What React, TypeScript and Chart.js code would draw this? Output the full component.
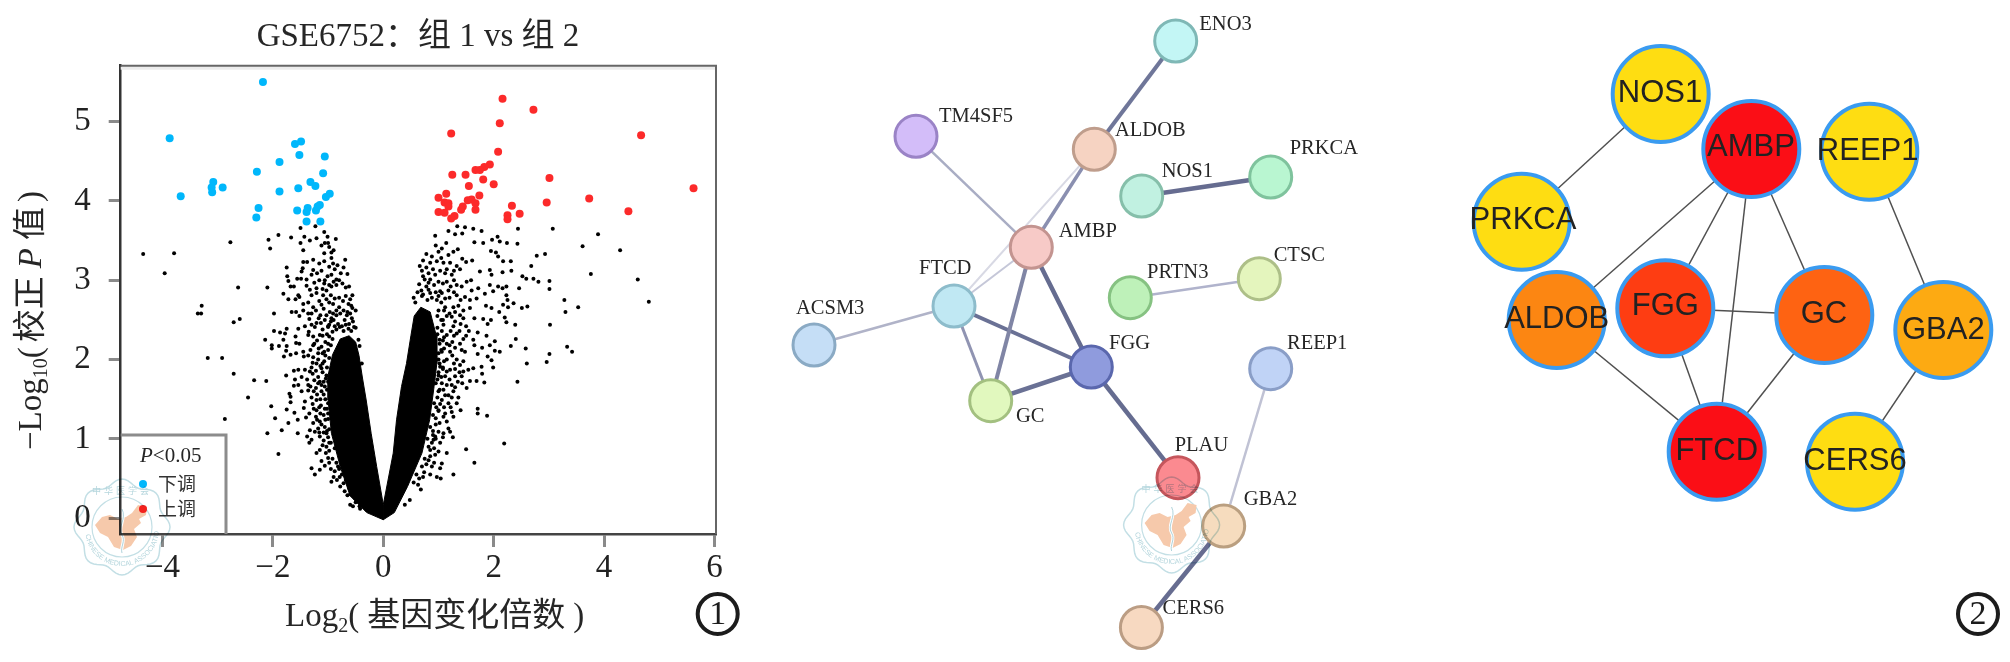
import React, { useEffect, useRef } from "react";
import { Chart, registerables } from "chart.js";

Chart.register(...registerables);

type P = number[];
const SERIF = '"Liberation Serif","Noto Sans CJK SC"';
const SANS = '"Liberation Sans",Arial';
const INK = "#222222";

/* ---------- Volcano plot values (log2 FC, -log10 adj. P) ---------- */
const volcanoTitle = "GSE6752：组 1 vs 组 2";
const xTickValues = [-4, -2, 0, 2, 4, 6];
const yTickValues = [0, 1, 2, 3, 4, 5];

const downRegulated: P[] = [
  [-2.18, 5.5], [-3.87, 4.79], [-3.67, 4.06], [-3.08, 4.24], [-3.11, 4.17], [-3.1, 4.11], [-2.91, 4.17], [-2.29, 4.37],
  [-1.88, 4.49], [-1.88, 4.12], [-2.26, 3.91], [-2.3, 3.79], [-1.6, 4.72], [-1.49, 4.75], [-1.52, 4.58], [-1.06, 4.56],
  [-1.09, 4.35], [-1.32, 4.24], [-1.23, 4.19], [-1.54, 4.16], [-0.97, 4.09], [-1.04, 4.05], [-1.15, 3.95], [-1.22, 3.88],
  [-1.37, 3.91], [-1.56, 3.88], [-1.39, 3.86], [-1.39, 3.74], [-1.14, 3.74], [-1.19, 3.93],
];

const upRegulated: P[] = [
  [2.16, 5.29], [2.72, 5.15], [2.11, 4.98], [1.23, 4.85], [4.67, 4.83], [2.08, 4.62], [1.93, 4.46], [1.83, 4.43],
  [1.75, 4.39], [1.67, 4.39], [1.49, 4.33], [1.25, 4.33], [1.81, 4.27], [3.01, 4.29], [1.55, 4.19], [2.0, 4.21],
  [5.62, 4.16], [3.73, 4.03], [1.0, 4.04], [1.14, 4.09], [1.74, 4.07], [1.53, 4.01], [1.6, 4.02], [1.67, 3.97],
  [2.96, 3.98], [1.11, 3.98], [1.18, 3.97], [1.18, 3.93], [1.44, 3.93], [1.41, 3.89], [1.67, 3.89], [2.33, 3.94],
  [4.44, 3.87], [2.47, 3.84], [1.0, 3.86], [1.11, 3.85], [2.25, 3.82], [2.25, 3.77], [1.29, 3.81], [1.23, 3.78],
];

const notSignificantLeft: P[] = [
  [-4.35, 3.33], [-3.79, 3.34], [-3.96, 3.09], [-2.77, 3.48], [-2.63, 2.91], [-2.1, 2.91], [-3.29, 2.68], [-3.36, 2.58], [-3.3, 2.58],
  [-2.71, 2.47], [-2.6, 2.51], [-1.98, 2.58], [-2.14, 2.25], [-3.18, 2.02], [-2.92, 2.02], [-2.71, 1.82], [-2.34, 1.74], [-2.12, 1.73],
  [-2.45, 1.52], [-2.03, 1.41], [-2.87, 1.25], [-1.96, 1.26], [-2.1, 1.07], [-1.84, 1.11], [-1.72, 1.2], [-1.9, 0.81], [-1.55, 1.07],
  [-1.76, 1.8], [-1.7, 1.57], [-1.75, 1.37], [-1.61, 1.33], [-1.55, 1.24],
  [-2.08, 3.51], [-2.05, 3.4], [-1.9, 3.57], [-1.67, 3.54], [-1.5, 3.66], [-1.43, 3.55], [-1.5, 3.47], [-1.45, 3.38], [-1.33, 3.5],
  [-1.21, 3.53], [-1.23, 3.68], [-1.07, 3.61], [-1.01, 3.55], [-1.06, 3.47], [-1.0, 3.47], [-0.86, 3.52], [-1.07, 3.34], [-0.94, 3.35],
  [-0.94, 3.28], [-0.69, 3.26], [-1.75, 3.16], [-1.45, 3.23], [-1.38, 3.23], [-1.27, 3.26], [-1.16, 3.21], [-1.07, 3.24], [-1.46, 3.15],
  [-1.48, 3.11], [-1.27, 3.13], [-0.98, 3.17], [-0.91, 3.21], [-0.65, 3.08], [-0.77, 3.09], [-0.94, 3.07], [-1.01, 3.05], [-0.85, 3.01],
  [-0.8, 3.0], [-1.74, 3.05], [-1.72, 2.99], [-1.56, 3.02], [-1.49, 3.02], [-1.39, 3.01], [-1.3, 3.07], [-1.16, 3.0], [-1.06, 3.0],
  [-1.07, 2.96], [-1.68, 2.92], [-1.62, 2.92], [-1.39, 2.93], [-1.21, 2.9], [-1.1, 2.89], [-1.03, 2.87], [-0.94, 2.92], [-0.85, 2.94],
  [-0.68, 2.91], [-1.81, 2.83], [-1.54, 2.81], [-1.72, 2.76], [-1.59, 2.76], [-1.52, 2.79], [-1.3, 2.81], [-1.21, 2.84], [-1.09, 2.81],
  [-0.95, 2.81], [-0.88, 2.77], [-0.56, 2.81], [-1.45, 2.7], [-1.27, 2.66], [-1.12, 2.69], [-0.91, 2.7], [-0.63, 2.7], [-0.56, 2.65],
  [-0.5, 2.62], [-1.66, 2.6], [-1.58, 2.6], [-1.45, 2.62], [-1.3, 2.58], [-1.14, 2.56], [-1.03, 2.56], [-0.91, 2.58], [-0.66, 2.56],
  [-0.72, 2.62], [-1.52, 2.55], [-1.34, 2.51], [-1.21, 2.46], [-1.06, 2.5], [-0.94, 2.52], [-0.57, 2.52], [-0.53, 2.41], [-1.75, 2.39],
  [-1.98, 2.36], [-1.87, 2.34], [-1.78, 2.33], [-1.54, 2.39], [-1.42, 2.42], [-1.24, 2.41], [-1.0, 2.41], [-0.79, 2.41], [-0.63, 2.39],
  [-1.81, 2.25], [-1.59, 2.29], [-1.36, 2.31], [-1.27, 2.29], [-1.15, 2.31], [-0.98, 2.29], [-0.45, 2.25], [-2.02, 2.18], [-1.89, 2.17],
  [-1.75, 2.17], [-1.58, 2.21], [-1.52, 2.2], [-2.02, 2.14], [-1.76, 2.11], [-1.27, 2.18], [-1.12, 2.16], [-0.43, 2.17], [-1.45, 2.1],
  [-1.58, 2.08], [-1.68, 2.06], [-1.8, 2.04], [-1.44, 2.04], [-1.36, 2.05], [-1.27, 2.03], [-1.18, 2.08], [-1.07, 2.1], [-0.39, 1.95],
  [-1.54, 1.87], [-1.62, 1.86], [-1.42, 1.87], [-1.33, 1.85], [-1.21, 1.95], [-1.12, 1.89], [-1.48, 1.78], [-1.6, 1.75], [-1.38, 1.75],
  [-1.28, 1.82], [-1.18, 1.78], [-1.62, 1.67], [-1.54, 1.68], [-1.36, 1.68], [-1.18, 1.7], [-1.36, 1.61], [-1.26, 1.6], [-1.48, 1.6],
  [-1.68, 1.53], [-1.42, 1.47], [-1.28, 1.44], [-1.68, 1.46], [-1.21, 1.49], [-1.44, 1.39], [-1.21, 1.36], [-1.4, 1.27], [-1.22, 1.28],
  [-1.27, 1.2], [-1.33, 1.11], [-1.24, 1.09], [-1.18, 1.13], [-1.38, 1.03], [-1.3, 0.99], [-1.34, 0.95], [-1.15, 1.03], [-1.03, 1.07],
  [-1.21, 0.82], [-1.15, 0.86], [-1.03, 0.9], [-1.0, 0.76], [-1.3, 0.63], [-1.15, 0.61], [-1.24, 0.55], [-0.82, 0.65], [-0.88, 0.59],
  [-0.94, 0.46], [-0.79, 0.52], [-0.72, 0.44], [-0.65, 0.29], [-0.6, 0.17], [-0.39, 0.25], [-0.43, 0.15], [-0.51, 0.25],
  [-1.0, 2.2], [-1.05, 2.05], [-1.1, 1.95], [-1.03, 1.8], [-1.08, 1.72], [-1.12, 1.6], [-1.02, 1.62], [-1.05, 1.5], [-1.13, 1.42],
  [-1.02, 1.38], [-1.08, 1.3], [-1.15, 1.22], [-1.0, 1.25], [-1.06, 1.15], [-0.98, 1.12], [-1.0, 1.02], [-1.08, 0.98], [-0.95, 0.95],
  [-0.98, 0.85], [-0.88, 0.88], [-0.92, 0.75], [-0.85, 0.7], [-0.8, 0.62], [-0.75, 0.55], [-0.68, 0.48], [-0.62, 0.38], [-0.5, 0.2], [-0.42, 0.12],
  [-0.5, 2.4], [-0.55, 2.48], [-0.62, 2.45], [-0.7, 2.5], [-0.75, 2.42], [-0.82, 2.45], [-0.85, 2.38], [-0.92, 2.35], [-0.65, 2.6],
  [-0.78, 2.58], [-0.85, 2.62], [-0.95, 2.48], [-1.0, 2.42],
];

/* second pass over the crowded part of the left arm */
const crowdedLeft: P[] = [
  [-0.98, 3.42], [-1.12, 3.44], [-0.9, 3.38], [-1.12, 3.12], [-0.88, 3.14], [-0.72, 3.16], [-1.2, 3.09], [-0.83, 3.19], [-1.25, 2.97], [-0.98, 2.94],
  [-0.9, 2.98], [-0.74, 2.96], [-1.33, 2.88], [-0.62, 2.92], [-1.16, 2.74], [-1.03, 2.76], [-0.98, 2.72], [-0.8, 2.78], [-0.73, 2.74], [-0.68, 2.8],
  [-1.36, 2.72], [-0.6, 2.76], [-1.22, 2.62], [-1.08, 2.64], [-0.97, 2.6], [-0.85, 2.56], [-0.8, 2.66], [-0.6, 2.58], [-0.58, 2.68], [-1.36, 2.58],
  [-1.13, 2.46], [-1.1, 2.38], [-0.98, 2.44], [-0.9, 2.5], [-0.88, 2.42], [-0.72, 2.36], [-0.68, 2.44], [-0.58, 2.36], [-1.17, 2.52], [-1.3, 2.44],
  [-1.35, 2.35], [-1.2, 2.24], [-1.1, 2.3], [-1.05, 2.22], [-1.02, 2.32], [-0.92, 2.26], [-1.25, 2.2], [-1.32, 2.12], [-1.17, 2.14], [-1.1, 2.08],
  [-1.0, 2.12], [-0.95, 2.18], [-1.28, 1.96], [-1.18, 2.0], [-1.14, 1.92], [-1.07, 1.98], [-1.02, 1.9], [-0.98, 2.02], [-1.3, 1.9], [-1.22, 1.86],
  [-1.1, 1.84], [-1.04, 1.76], [-1.15, 1.72], [-1.25, 1.74], [-1.32, 1.66], [-1.22, 1.64], [-1.12, 1.68], [-1.06, 1.66], [-1.0, 1.72], [-1.3, 1.52],
  [-1.2, 1.56], [-1.14, 1.5], [-1.08, 1.56], [-1.0, 1.45], [-1.16, 1.4], [-1.26, 1.38], [-1.34, 1.32], [-1.14, 1.32], [-1.06, 1.38], [-1.0, 1.32],
  [-1.2, 1.24], [-1.12, 1.18], [-1.05, 1.24], [-1.16, 1.08], [-1.08, 1.08], [-1.02, 1.1], [-1.1, 0.92], [-1.04, 0.82], [-0.98, 0.95], [-1.12, 0.72],
  [-1.06, 0.66], [-0.98, 0.7], [-0.95, 0.62], [-0.9, 0.52], [-0.84, 0.48], [-0.78, 0.4], [-0.7, 0.34], [-0.6, 0.3], [-0.55, 0.15],
];

const notSignificantRight: P[] = [
  [3.07, 3.65], [2.44, 3.65], [3.89, 3.58], [3.61, 3.43], [4.29, 3.38], [2.78, 3.31], [2.93, 3.33], [2.68, 3.18], [3.76, 3.08], [4.61, 3.01],
  [4.81, 2.73], [3.28, 2.75], [3.53, 2.66], [3.3, 2.6], [3.02, 2.44], [3.33, 2.16], [3.42, 2.1], [3.01, 2.07], [2.96, 1.97], [2.6, 1.95],
  [2.43, 1.72], [2.58, 2.14], [2.4, 2.26], [2.31, 2.17], [2.19, 0.94], [1.88, 1.29], [1.71, 1.38], [1.71, 1.32], [1.5, 0.87], [1.65, 0.7],
  [1.27, 0.55], [2.61, 2.67], [2.51, 2.65], [3.01, 2.99], [3.01, 2.89], [2.81, 2.98], [2.72, 3.02], [2.59, 3.02], [2.52, 3.05], [2.46, 2.9],
  [2.32, 3.12], [2.16, 3.1], [2.43, 3.46], [2.24, 3.47], [2.11, 3.49], [2.07, 3.55], [1.97, 3.51], [1.81, 3.47], [1.65, 3.48], [1.78, 3.62],
  [1.63, 3.65], [1.48, 3.67], [1.43, 3.59], [1.34, 3.68], [1.3, 3.58], [1.18, 3.62], [0.94, 3.56], [0.95, 3.44], [1.14, 3.47], [1.06, 3.4],
  [1.0, 3.36], [0.78, 3.33], [1.35, 3.39], [1.27, 3.36], [1.18, 3.32], [1.95, 3.37], [2.04, 3.35], [2.08, 3.3], [2.17, 3.24], [2.31, 3.24],
  [1.43, 3.27], [1.5, 3.23], [1.61, 3.25], [0.66, 3.18], [0.85, 3.22], [0.97, 3.24], [1.09, 3.22], [1.21, 3.22], [1.33, 3.18], [1.39, 3.14],
  [1.75, 3.11], [1.93, 3.13], [1.96, 3.07], [0.82, 3.09], [0.94, 3.07], [1.12, 3.09], [1.24, 3.07], [0.75, 3.01], [0.85, 3.01], [1.0, 2.98],
  [1.15, 2.98], [1.33, 2.94], [1.51, 2.98], [1.59, 3.0], [1.93, 2.94], [2.08, 2.92], [2.23, 2.92], [0.69, 2.87], [0.82, 2.88], [1.03, 2.86],
  [1.18, 2.87], [1.6, 2.87], [1.72, 2.9], [1.84, 2.83], [1.99, 2.86], [2.16, 2.9], [0.8, 2.75], [0.97, 2.75], [1.12, 2.77], [1.33, 2.81],
  [1.48, 2.79], [1.57, 2.75], [1.69, 2.77], [2.23, 2.81], [2.25, 2.75], [2.36, 2.71], [1.86, 2.68], [1.96, 2.65], [2.17, 2.69], [2.26, 2.66],
  [1.27, 2.66], [1.57, 2.65], [2.1, 2.6], [1.39, 2.56], [2.2, 2.53], [1.65, 2.52], [1.81, 2.51], [1.95, 2.5], [2.23, 2.47], [2.39, 2.44],
  [1.89, 2.45], [1.45, 2.52], [1.24, 2.54], [1.09, 2.44], [1.27, 2.42], [1.15, 2.31], [1.33, 2.33], [1.55, 2.36], [1.71, 2.34], [1.87, 2.3],
  [1.45, 2.26], [1.63, 2.25], [2.02, 2.23], [1.15, 2.2], [1.39, 2.2], [1.65, 2.18], [1.93, 2.18], [1.79, 2.15], [1.48, 2.1], [1.06, 2.1],
  [1.21, 2.1], [1.71, 2.07], [2.02, 2.11], [2.11, 2.1], [1.89, 2.04], [1.96, 1.99], [1.15, 2.0], [1.33, 2.0], [1.39, 1.93], [1.63, 1.89],
  [1.78, 1.91], [1.99, 1.9], [1.03, 1.91], [1.21, 1.87], [1.45, 1.85], [1.54, 1.87], [1.79, 1.82], [1.12, 1.79], [1.3, 1.79], [1.42, 1.79],
  [1.69, 1.73], [1.83, 1.71], [1.57, 1.73], [1.06, 1.7], [1.24, 1.68], [1.51, 1.64], [1.43, 1.7], [1.09, 1.62], [1.27, 1.6], [1.18, 1.55],
  [1.36, 1.52], [1.06, 1.49], [1.33, 1.45], [1.18, 1.45], [1.0, 1.36], [1.4, 1.36], [1.24, 1.34], [1.09, 1.28], [1.27, 1.28], [1.18, 1.13],
  [1.0, 1.09], [1.21, 1.09], [1.09, 1.07], [1.26, 1.02], [0.94, 1.03], [1.03, 0.95], [0.91, 0.99], [1.15, 0.82], [0.94, 0.8], [0.85, 0.86],
  [0.82, 0.73], [1.06, 0.69], [0.88, 0.65], [1.03, 0.63], [0.85, 0.55], [0.97, 0.52], [1.04, 0.5], [0.72, 0.52], [0.63, 0.42], [0.68, 0.36],
  [0.48, 0.23], [0.39, 0.17],
  [0.98, 2.4], [1.02, 2.25], [1.05, 2.12], [1.0, 2.0], [1.08, 1.9], [1.0, 1.8], [0.95, 1.7], [1.02, 1.62], [0.98, 1.52], [0.92, 1.45],
  [1.0, 1.35], [0.9, 1.3], [0.95, 1.18], [0.85, 1.15], [0.9, 1.05], [0.8, 1.0], [0.82, 0.9], [0.75, 0.75], [0.7, 0.65], [0.6, 0.55], [0.55, 0.45],
  [0.55, 2.78], [0.62, 2.85], [0.7, 2.8], [0.78, 2.92], [0.88, 2.78], [0.95, 2.85], [1.05, 2.72], [1.1, 2.62], [1.05, 2.5], [0.65, 2.95], [0.72, 3.05], [0.58, 2.72],
];

/* second pass over the crowded part of the right arm */
const crowdedRight: P[] = [
  [0.88, 3.3], [0.72, 3.25], [1.05, 3.28], [0.7, 3.12], [0.78, 3.16], [0.9, 3.14], [1.03, 3.12], [1.15, 3.14], [1.28, 3.12], [0.82, 2.97],
  [0.92, 2.94], [1.08, 2.96], [1.22, 2.92], [1.28, 3.0], [1.42, 2.92], [0.72, 2.82], [0.85, 2.84], [1.0, 2.8], [1.06, 2.84], [1.2, 2.78],
  [1.28, 2.85], [1.4, 2.75], [1.0, 2.62], [1.12, 2.66], [1.2, 2.58], [1.3, 2.6], [1.36, 2.68], [1.45, 2.62], [0.98, 2.55], [1.08, 2.5],
  [1.15, 2.55], [1.3, 2.48], [1.4, 2.45], [1.5, 2.42], [0.98, 2.32], [1.06, 2.36], [1.1, 2.28], [1.22, 2.36], [1.28, 2.3], [1.38, 2.36],
  [1.5, 2.3], [1.02, 2.2], [1.08, 2.24], [1.25, 2.22], [1.3, 2.15], [1.1, 2.14], [1.2, 2.18], [1.42, 2.12], [1.0, 2.08], [1.02, 1.95],
  [1.1, 1.98], [1.25, 2.05], [1.28, 1.95], [1.45, 1.98], [1.08, 1.88], [1.15, 1.85], [1.3, 1.88], [1.38, 1.84], [1.0, 1.84], [0.98, 1.75],
  [1.05, 1.78], [1.2, 1.75], [1.15, 1.68], [1.35, 1.72], [1.3, 1.65], [1.0, 1.6], [1.12, 1.55], [1.24, 1.52], [1.03, 1.44], [0.96, 1.4],
  [1.1, 1.4], [1.22, 1.4], [1.12, 1.32], [0.95, 1.26], [1.02, 1.2], [1.15, 1.22], [0.9, 1.1], [0.95, 1.0], [1.08, 1.02], [0.88, 0.95],
  [0.92, 0.88], [0.85, 0.78], [1.0, 0.84], [0.78, 0.68], [0.92, 0.7], [0.74, 0.58], [0.65, 0.5],
];

/* Outline of the saturated black mass on each arm of the V */
const denseCoreLeft: P[] = [
  [0, 0.17], [-0.12, 0.65], [-0.22, 1.07], [-0.31, 1.49], [-0.38, 1.78], [-0.44, 2.05], [-0.5, 2.22], [-0.62, 2.3], [-0.78, 2.26], [-0.92, 2.06],
  [-1.0, 1.8], [-1.0, 1.49], [-0.94, 1.07], [-0.78, 0.65], [-0.6, 0.28], [-0.3, 0.07], [0, -0.02], [0, 0.17],
];
const denseCoreRight: P[] = [
  [0, 0.17], [0.18, 0.82], [0.24, 1.24], [0.33, 1.66], [0.42, 1.95], [0.5, 2.3], [0.56, 2.55], [0.68, 2.66], [0.85, 2.6], [0.96, 2.3],
  [0.97, 1.95], [0.92, 1.66], [0.84, 1.24], [0.7, 0.82], [0.44, 0.4], [0.2, 0.07], [0, -0.02], [0, 0.17],
];

/* ---------- STRING network ---------- */
const stringNames = ["ENO3", "TM4SF5", "ALDOB", "NOS1", "PRKCA", "AMBP", "FTCD", "ACSM3", "PRTN3", "CTSC", "FGG", "GC", "REEP1", "PLAU", "GBA2", "CERS6"];
const stringX = [1175.7, 916, 1094.3, 1141.7, 1270.7, 1031.3, 954, 814, 1130.3, 1259.3, 1091.3, 990.7, 1270.7, 1178, 1223.7, 1141.4];
const stringY = [41, 136.3, 149.3, 196, 177, 247.3, 306, 345, 297.7, 278.7, 367, 400.7, 368.7, 477.7, 526, 627.5];
const stringFill = ["#c3f6f5", "#d3bdf9", "#f6d3c2", "#c1f1e1", "#b9f6d1", "#f7cac7", "#c0e8f3", "#c5def6", "#bef1b9", "#e4f5bd", "#8f9bdd", "#e1f8be", "#c0d3f6", "#fb8a90", "#f6dcbe", "#f7d9c1"];
const stringBorder = ["#7fb8b6", "#9a83c6", "#bf9d8c", "#86bfaa", "#7fc39d", "#c39490", "#8dbccb", "#8aaac4", "#86c282", "#adbf88", "#5a67ad", "#a3c080", "#8a9ec7", "#c5565c", "#ba9f80", "#bb9d84"];
const stringLabelX = [1199.3, 939, 1115, 1161.7, 1289.7, 1058.7, 919, 796, 1147, 1273.7, 1109, 1016, 1287, 1174.7, 1243.7, 1162.6];
const stringLabelY = [24.3, 116.3, 131, 171.3, 149, 232, 268.3, 308.3, 272.3, 255.7, 344, 416.3, 344, 446, 499.3, 609];
const stringEdges: [string, string, number, string][] = [
  ["ENO3", "ALDOB", 4, "#6f7699"], ["TM4SF5", "AMBP", 2.5, "#a9adc4"], ["ALDOB", "AMBP", 3.5, "#8a8fb0"], ["ALDOB", "FTCD", 2, "#d8d9e4"],
  ["AMBP", "FTCD", 2, "#c5c7d8"], ["AMBP", "FGG", 4.5, "#656c90"], ["AMBP", "GC", 4, "#8085a5"], ["FTCD", "FGG", 4, "#6a7195"],
  ["FTCD", "GC", 3, "#9094b2"], ["GC", "FGG", 4.5, "#6a7195"], ["ACSM3", "FTCD", 2.5, "#b0b3c8"], ["FGG", "PLAU", 4.5, "#656c90"],
  ["NOS1", "PRKCA", 4.5, "#666c90"], ["PRTN3", "CTSC", 2.5, "#b0b3cc"], ["REEP1", "GBA2", 2.5, "#c0c2d4"], ["GBA2", "CERS6", 4.5, "#666c90"],
];

/* ---------- Hub network ---------- */
const hubNames = ["NOS1", "AMBP", "REEP1", "PRKCA", "ALDOB", "FGG", "GC", "GBA2", "FTCD", "CERS6"];
const hubX = [1660.7, 1751.3, 1869.3, 1521.7, 1556.7, 1665.3, 1824.3, 1943.3, 1716.7, 1855];
const hubY = [94, 149, 151.7, 221.7, 320, 308.3, 315, 330, 451.7, 461.7];
const hubFill = ["#fedd12", "#fb0e16", "#fedd12", "#fedd12", "#fc8612", "#fe3d12", "#fe6312", "#fdaa12", "#fb0e16", "#fedd12"];
const hubLabelX = [1660, 1751, 1867.7, 1523, 1556.7, 1665.3, 1824, 1943.3, 1716.7, 1855];
const hubLabelY = [93.3, 147.7, 151.7, 220.7, 319, 306.7, 314.3, 330, 451.7, 461];
const hubEdges: [string, string][] = [
  ["NOS1", "PRKCA"], ["AMBP", "ALDOB"], ["AMBP", "FGG"], ["AMBP", "FTCD"], ["AMBP", "GC"], ["REEP1", "GBA2"],
  ["FGG", "GC"], ["FGG", "FTCD"], ["ALDOB", "FTCD"], ["GC", "FTCD"], ["GBA2", "CERS6"],
];

const toXY = (pts: P[]) => pts.map(([x, y]) => ({ x, y }));

type Run = { t: string; size?: number; italic?: boolean; dy?: number; gap?: number };
function drawRuns(ctx: CanvasRenderingContext2D, runs: Run[], x: number, y: number, base: number, color = "#262626") {
  ctx.fillStyle = color;
  ctx.textAlign = "left";
  ctx.textBaseline = "alphabetic";
  let cx = x;
  for (const r of runs) {
    cx += r.gap || 0;
    ctx.font = `${r.italic ? "italic " : ""}${r.size || base}px ${SERIF}`;
    ctx.fillText(r.t, cx, y + (r.dy || 0));
    cx += ctx.measureText(r.t).width;
  }
}

function circled(ctx: CanvasRenderingContext2D, cx: number, cy: number, digit: string) {
  ctx.save();
  ctx.strokeStyle = "#1c1c1c";
  ctx.lineWidth = 4;
  ctx.beginPath();
  ctx.ellipse(cx, cy, 20, 20, 0, 0, Math.PI * 2);
  ctx.stroke();
  ctx.fillStyle = "#1c1c1c";
  ctx.font = `34px ${SERIF}`;
  ctx.textAlign = "center";
  ctx.textBaseline = "middle";
  ctx.fillText(digit, cx, cy + 1);
  ctx.restore();
}

const volcanoDecor = {
  id: "volcanoDecor",
  afterDatasetsDraw(chart: any) {
    const { ctx, chartArea: a } = chart;
    ctx.save();
    // frame: top and right sides
    ctx.fillStyle = "#ececec";
    ctx.fillRect(a.left, a.top + 1, a.right - a.left, 3);
    ctx.strokeStyle = "#666666";
    ctx.lineWidth = 2;
    ctx.beginPath();
    ctx.moveTo(a.left, a.top);
    ctx.lineTo(a.right, a.top);
    ctx.lineTo(a.right, a.bottom);
    ctx.stroke();
    // legend box
    ctx.strokeStyle = "#8c8c8c";
    ctx.lineWidth = 3;
    ctx.beginPath();
    ctx.moveTo(a.left, 435);
    ctx.lineTo(226, 435);
    ctx.lineTo(226, a.bottom);
    ctx.stroke();
    ctx.fillStyle = "#00b7fb";
    ctx.beginPath();
    ctx.arc(143, 484, 4, 0, Math.PI * 2);
    ctx.fill();
    ctx.fillStyle = "#fc2a2a";
    ctx.beginPath();
    ctx.arc(143, 509, 4, 0, Math.PI * 2);
    ctx.fill();
    drawRuns(ctx, [{ t: "P", italic: true }, { t: "<0.05" }], 140, 462, 21);
    ctx.font = `19px "Noto Sans CJK SC"`;
    ctx.fillStyle = "#333333";
    ctx.textAlign = "left";
    ctx.textBaseline = "middle";
    ctx.fillText("下调", 158, 484);
    ctx.fillText("上调", 158, 509);
    // title
    ctx.font = `33px ${SERIF}`;
    ctx.fillStyle = "#262626";
    ctx.textAlign = "center";
    ctx.textBaseline = "middle";
    ctx.fillText(volcanoTitle, 418, 37);
    // x title
    drawRuns(ctx, [{ t: "Log" }, { t: "2", size: 20, dy: 6 }, { t: "(" }, { t: "基因变化倍数", gap: 8 }, { t: ")", gap: 8 }], 285, 626, 33);
    // y title
    ctx.translate(41, 450);
    ctx.rotate(-Math.PI / 2);
    drawRuns(ctx, [{ t: "−Log" }, { t: "10", size: 20, dy: 6 }, { t: "(" }, { t: "校正", gap: 5 }, { t: "P", italic: true, gap: 8 }, { t: "值", gap: 8 }, { t: ")", gap: 5 }], 0, 0, 33);
    ctx.restore();
    circled(ctx, 717.7, 614, "1");
  },
};

function labelPlugin(names: string[], xs: number[], ys: number[], font: string, align: CanvasTextAlign, color: string) {
  return {
    id: "nodeLabels",
    afterDatasetsDraw(chart: any) {
      const { ctx, scales } = chart;
      ctx.save();
      ctx.font = font;
      ctx.fillStyle = color;
      ctx.textAlign = align;
      ctx.textBaseline = "middle";
      names.forEach((n, i) => ctx.fillText(n, scales.x.getPixelForValue(xs[i]), scales.y.getPixelForValue(ys[i])));
      ctx.restore();
    },
  };
}

const hiddenScale = (min: number, max: number, reverse = false) => ({ type: "linear", min, max, reverse, display: false });

function networkOptions(xMin: number, xMax: number) {
  return {
    responsive: false,
    animation: false,
    layout: { padding: 0, autoPadding: false },
    plugins: { legend: { display: false }, tooltip: { enabled: false } },
    scales: { x: hiddenScale(xMin, xMax), y: hiddenScale(0, 662, true) },
  };
}

function Watermark({ cx, cy }: { cx: number; cy: number }) {
  const pts: string[] = [];
  for (let i = 0; i <= 96; i++) {
    const t = (i / 96) * Math.PI * 2;
    const r = 45 + 3 * Math.cos(8 * t);
    pts.push(`${(r * Math.sin(t)).toFixed(1)},${(-r * Math.cos(t)).toFixed(1)}`);
  }
  const id = `wm${cx}`;
  return (
    <g transform={`translate(${cx},${cy})`} style={{ mixBlendMode: "multiply" }}>
      <path d={`M${pts.join("L")}Z`} fill="none" stroke="#c3dfe5" strokeWidth={1.5} />
      <circle r={30} fill="none" stroke="#c3dfe5" strokeWidth={1.2} />
      <path
        d="M-27,-2L-20,-10L-12,-12L-4,-8L4,-10L10,-14L16,-22L25,-20L24,-12L17,-8L19,-4L12,2L15,10L9,19L1,23L-8,20L-14,10L-22,6Z"
        fill="#f6c9ab"
      />
      <path d="M0,-18C5,-8 -5,0 0,8C4,14 -2,20 0,26" fill="none" stroke="#ffffff" strokeWidth={3} />
      <path d="M0,-18C5,-8 -5,0 0,8C4,14 -2,20 0,26" fill="none" stroke="#9cc8d2" strokeWidth={0.8} />
      <path id={id} d="M-37,2A37,37 0 0 0 37,2" fill="none" />
      <text fontSize={7} fill="#b5d6dd" fontFamily="Liberation Sans">
        <textPath href={`#${id}`} startOffset="5%">CHINESE MEDICAL ASSOCIATION</textPath>
      </text>
      <text x={0} y={-33} fontSize={9} textAnchor="middle" fill="#b5d6dd" fontFamily="Noto Sans CJK SC" letterSpacing={3}>中华医学会</text>
    </g>
  );
}

const layer = (left: number, width: number): React.CSSProperties => ({ position: "absolute", left, top: 0, width, height: 662, display: "block" });

export default function App() {
  const aRef = useRef<HTMLCanvasElement>(null);
  const bRef = useRef<HTMLCanvasElement>(null);
  const cRef = useRef<HTMLCanvasElement>(null);

  useEffect(() => {
    const tickFont = { family: SERIF, size: 33 };
    const dots = (data: P[], color: string, radius: number) => ({
      type: "scatter",
      data: toXY(data),
      pointRadius: radius,
      pointBackgroundColor: color,
      pointBorderWidth: 0,
      clip: false,
    });
    const core = (data: P[]) => ({
      type: "line",
      data: toXY(data),
      showLine: true,
      fill: "shape",
      backgroundColor: "#000000",
      borderColor: "#000000",
      borderWidth: 1,
      pointRadius: 0,
      tension: 0,
      clip: false,
    });

    const a = new Chart(aRef.current!, {
      type: "scatter",
      data: {
        datasets: [
          dots(upRegulated, "#fc2a2a", 4),
          dots(downRegulated, "#00b7fb", 4),
          dots(notSignificantLeft, "#000000", 2),
          dots(crowdedLeft, "#000000", 2),
          dots(notSignificantRight, "#000000", 2),
          dots(crowdedRight, "#000000", 2),
          core(denseCoreLeft),
          core(denseCoreRight),
        ] as any,
      },
      options: {
        responsive: false,
        animation: false,
        layout: { padding: { top: 65.7, right: 44, left: 0, bottom: 0 }, autoPadding: false },
        plugins: { legend: { display: false }, tooltip: { enabled: false } },
        scales: {
          x: {
            type: "linear",
            min: -4.757,
            max: 6.027,
            afterFit: (s: any) => { s.height = 128; },
            afterBuildTicks: (s: any) => { s.ticks = xTickValues.map((value) => ({ value })); },
            border: { color: "#444444", width: 2.5 },
            grid: { drawOnChartArea: false, drawTicks: true, tickLength: 13, tickColor: "#8a8a8a", tickWidth: 3 },
            ticks: {
              font: tickFont,
              color: INK,
              padding: 2,
              maxRotation: 0,
              autoSkip: false,
              callback: (v: any) => String(v).replace("-", "−"),
            },
          },
          y: {
            type: "linear",
            min: -0.2,
            max: 5.706,
            afterFit: (s: any) => { s.width = 120.7; },
            afterBuildTicks: (s: any) => { s.ticks = yTickValues.map((value) => ({ value })); },
            border: { color: "#333333", width: 2.5 },
            grid: { drawOnChartArea: false, drawTicks: true, tickLength: 12, tickColor: "#8a8a8a", tickWidth: 3 },
            ticks: { font: tickFont, color: INK, padding: 18, autoSkip: false, callback: (v: any) => String(v) },
          },
        },
      } as any,
      plugins: [volcanoDecor],
    } as any);

    const sIdx = (n: string) => stringNames.indexOf(n);
    const b = new Chart(bRef.current!, {
      type: "scatter",
      data: {
        datasets: [
          {
            data: stringX.map((x, i) => ({ x, y: stringY[i] })),
            pointRadius: 21,
            pointBackgroundColor: stringFill,
            pointBorderColor: stringBorder,
            pointBorderWidth: 3,
            clip: false,
          },
          ...stringEdges.map(([f, t, w, c]) => ({
            data: [
              { x: stringX[sIdx(f)], y: stringY[sIdx(f)] },
              { x: stringX[sIdx(t)], y: stringY[sIdx(t)] },
            ],
            showLine: true,
            borderWidth: w,
            borderColor: c,
            pointRadius: 0,
            clip: false,
          })),
        ] as any,
      },
      options: networkOptions(760, 1400) as any,
      plugins: [labelPlugin(stringNames, stringLabelX, stringLabelY, `20.5px ${SERIF}`, "left", "#262626")],
    } as any);

    const hIdx = (n: string) => hubNames.indexOf(n);
    const c = new Chart(cRef.current!, {
      type: "scatter",
      data: {
        datasets: [
          {
            data: hubX.map((x, i) => ({ x, y: hubY[i] })),
            pointRadius: 48,
            pointBackgroundColor: hubFill,
            pointBorderColor: "#3a9bf0",
            pointBorderWidth: 4,
            clip: false,
          },
          ...hubEdges.map(([f, t]) => ({
            data: [
              { x: hubX[hIdx(f)], y: hubY[hIdx(f)] },
              { x: hubX[hIdx(t)], y: hubY[hIdx(t)] },
            ],
            showLine: true,
            borderWidth: 1.5,
            borderColor: "#505050",
            pointRadius: 0,
            clip: false,
          })),
        ] as any,
      },
      options: networkOptions(1400, 2010) as any,
      plugins: [
        labelPlugin(hubNames, hubLabelX, hubLabelY, `31px ${SANS}`, "center", "#222222"),
        { id: "panelMark", afterDatasetsDraw: (ch: any) => circled(ch.ctx, 578, 614, "2") },
      ],
    } as any);

    return () => {
      a.destroy();
      b.destroy();
      c.destroy();
    };
  }, []);

  return (
    <div style={{ position: "absolute", left: 0, top: 0, width: 2010, height: 662, background: "#ffffff", overflow: "hidden" }}>
      <canvas ref={aRef} width={760} height={662} style={layer(0, 760)} />
      <canvas ref={bRef} width={640} height={662} style={layer(760, 640)} />
      <canvas ref={cRef} width={610} height={662} style={layer(1400, 610)} />
      <svg width={2010} height={662} style={{ position: "absolute", left: 0, top: 0, pointerEvents: "none" }}>
        <Watermark cx={122} cy={527} />
        <Watermark cx={1171.6} cy={525} />
      </svg>
    </div>
  );
}
